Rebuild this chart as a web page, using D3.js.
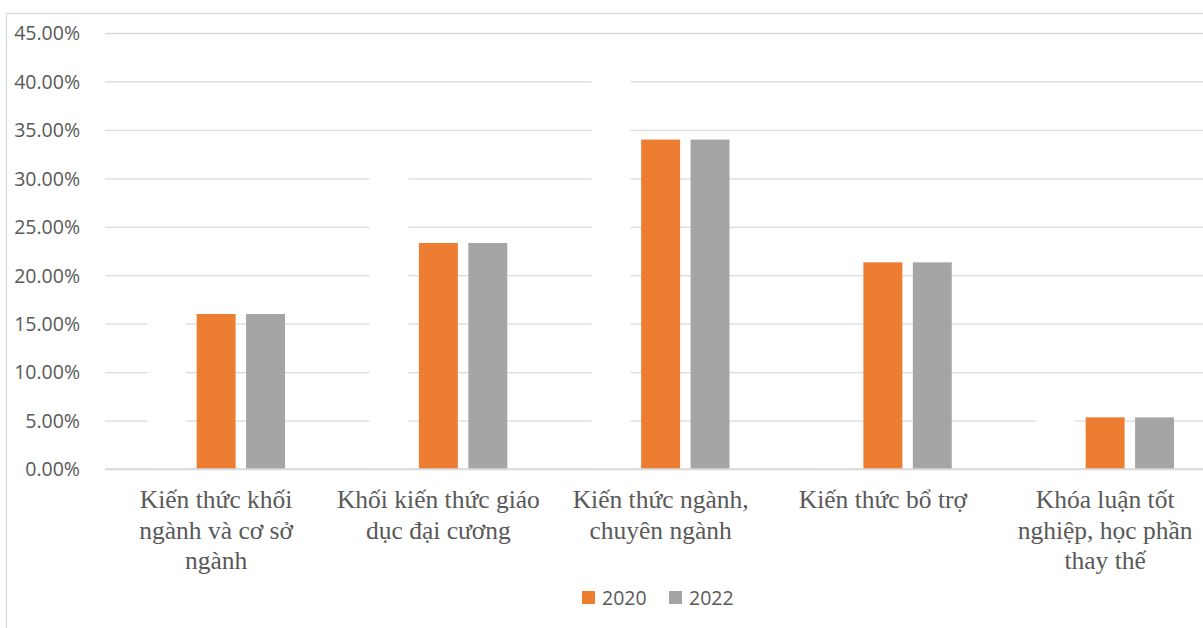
<!DOCTYPE html>
<html>
<head>
<meta charset="utf-8">
<script src="https://cdn.jsdelivr.net/npm/d3@7/dist/d3.min.js"></script>
<style>
  html, body { margin: 0; padding: 0; background: #fff; }
  svg { display: block; }
</style>
</head>
<body>
<script>
// ---- data ----
const categories = [
  "Kiến thức khối ngành và cơ sở ngành",
  "Khối kiến thức giáo dục đại cương",
  "Kiến thức ngành, chuyên ngành",
  "Kiến thức bổ trợ",
  "Khóa luận tốt nghiệp, học phần thay thế"
];
const categoryLines = [
  ["Kiến thức khối", "ngành và cơ sở", "ngành"],
  ["Khối kiến thức giáo", "dục đại cương"],
  ["Kiến thức ngành,", "chuyên ngành"],
  ["Kiến thức bổ trợ"],
  ["Khóa luận tốt", "nghiệp, học phần", "thay thế"]
];
const seriesNames = ["(ẩn)", "2020", "2022"];
const legendNames = ["2020", "2022"];
const hiddenValues = [0.17, 0.32, 0.42, 0.03, 0.07]; // white, not in legend
const values2020 = [0.16, 0.2333, 0.34, 0.2133, 0.0533];
const values2022 = [0.16, 0.2333, 0.34, 0.2133, 0.0533];
const yTicks = [0, 0.05, 0.10, 0.15, 0.20, 0.25, 0.30, 0.35, 0.40, 0.45];

// ---- styling ----
const colors = { "(ẩn)": "#ffffff", "2020": "#ED7D31", "2022": "#A5A5A5" };
const W = 1203, H = 628;
const svg = d3.select("body").append("svg").attr("width", W).attr("height", H);

// chart border (extends past the window)
svg.append("rect")
  .attr("x", 6.5).attr("y", 13.5)
  .attr("width", 1300).attr("height", 700)
  .attr("fill", "#fff").attr("stroke", "#d9d9d9").attr("stroke-width", 1.3);

const x0 = d3.scaleBand().domain(categories).range([105, 1216.25])
  .paddingInner(0.38).paddingOuter(0.19);
const x1 = d3.scaleBand().domain(seriesNames).range([0, x0.bandwidth()])
  .paddingInner(0.212).paddingOuter(0);
const y = d3.scaleLinear().domain([0, 0.45]).range([469, 33]);

// gridlines
const gridAxis = d3.axisLeft(y).tickValues(yTicks).tickSize(-(1300)).tickFormat("");
const grid = svg.append("g").attr("transform", "translate(105,0)").call(gridAxis);
grid.select(".domain").remove();
grid.selectAll("line").attr("stroke", "#d9d9d9").attr("stroke-width", 1.3)
  .attr("x1", 0).attr("x2", 1300);

// y labels
const yAxis = d3.axisLeft(y).tickValues(yTicks).tickSize(0).tickPadding(0)
  .tickFormat(d3.format(".2%"));
const ya = svg.append("g").attr("transform", "translate(80,0)").call(yAxis);
ya.select(".domain").remove();
ya.selectAll("text")
  .attr("font-family", "'Open Sans', sans-serif").attr("font-size", 19.5)
  .attr("fill", "#595959").attr("dy", "0.35em");

// bars
const rows = categories.map((c, i) => ({
  cat: c,
  vals: [
    { key: "(ẩn)", v: hiddenValues[i] },
    { key: "2020", v: values2020[i] },
    { key: "2022", v: values2022[i] }
  ]
}));
const groups = svg.append("g").selectAll("g").data(rows).join("g")
  .attr("transform", d => `translate(${x0(d.cat)},0)`);
groups.selectAll("rect").data(d => d.vals).join("rect")
  .attr("x", d => x1(d.key))
  .attr("width", x1.bandwidth())
  .attr("y", d => y(d.v))
  .attr("height", d => y(0) - y(d.v))
  .attr("fill", d => colors[d.key]);

// baseline
svg.append("line").attr("x1", 105).attr("x2", 1300)
  .attr("y1", y(0)).attr("y2", y(0))
  .attr("stroke", "#d9d9d9").attr("stroke-width", 1.3);

// category labels
const xl = svg.append("g");
categories.forEach((c, i) => {
  const cx = x0(c) + x0.bandwidth() / 2;
  const t = xl.append("text")
    .attr("text-anchor", "middle")
    .attr("font-family", "'Liberation Serif', 'Times New Roman', serif")
    .attr("font-size", 25.5).attr("fill", "#595959");
  categoryLines[i].forEach((ln, j) => {
    t.append("tspan").attr("x", cx).attr("y", 508 + j * 30.5).text(ln);
  });
});

// legend
const legendX = [582, 669];
const lg = svg.append("g");
legendNames.forEach((n, i) => {
  lg.append("rect").attr("x", legendX[i]).attr("y", 591)
    .attr("width", 13).attr("height", 13).attr("fill", colors[n]);
  lg.append("text").attr("x", legendX[i] + 20).attr("y", 605)
    .attr("font-family", "'Open Sans', sans-serif").attr("font-size", 19.5)
    .attr("fill", "#595959").text(n);
});
</script>
</body>
</html>
